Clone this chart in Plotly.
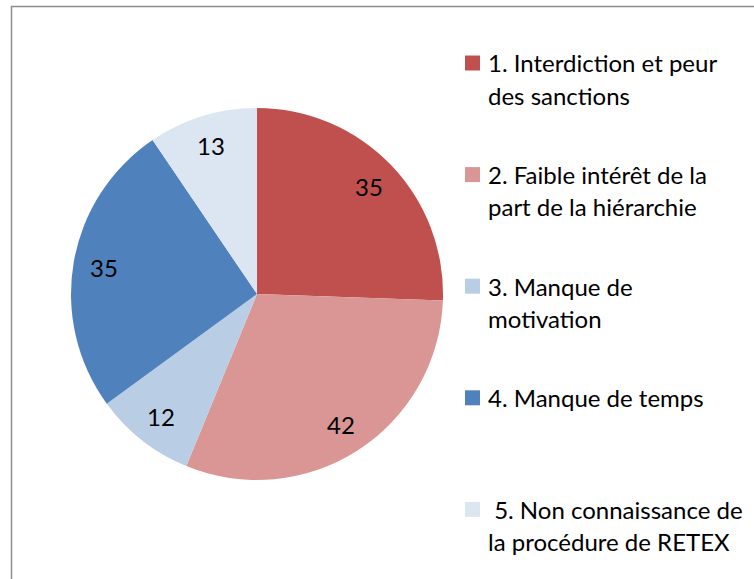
import math
import plotly.graph_objects as go

# Survey answers: obstacles to reporting (RETEX)
categories = [
    "1. Interdiction et peur\ndes sanctions",
    "2. Faible intérêt de la\npart de la hiérarchie",
    "3. Manque de\nmotivation",
    "4. Manque de temps",
    " 5. Non connaissance de\nla procédure de RETEX",
]
values = [35, 42, 12, 35, 13]
colors = ["#C0504D", "#D99694", "#B9CDE5", "#4F81BD", "#DCE6F2"]

W, H = 754, 579
FONT = "Lato"

# Pie geometry in pixels
cx, cy, R = 257, 294, 186
label_r = 0.835 * R


def px(x):
    return x / W


def py(y):
    return 1 - y / H


fig = go.Figure()
fig.add_trace(go.Pie(
    labels=[c.replace("\n", " ") for c in categories],
    values=values,
    marker=dict(colors=colors, line=dict(width=0)),
    sort=False,
    direction="clockwise",
    rotation=0,
    textinfo="none",
    hoverinfo="label+value",
    showlegend=False,
    domain=dict(x=[px(cx - R), px(cx + R)], y=[py(cy + R), py(cy - R)]),
))

annotations = []
shapes = []

# Value labels placed at the middle angle of each slice
total = sum(values)
acc = 0
for v in values:
    mid = (acc + v / 2) / total * 2 * math.pi
    acc += v
    lx = cx + label_r * math.sin(mid)
    ly = cy - label_r * math.cos(mid)
    annotations.append(dict(
        x=px(lx), y=py(ly), xref="paper", yref="paper",
        text=str(v), showarrow=False, xanchor="center", yanchor="middle",
        font=dict(family=FONT, size=24, color="#000000"),
    ))

# Legend drawn at the right
leg_x_marker = 465
leg_x_text = 486
leg_y0 = 63
leg_step = 111.6
line_gap = 32
sq = 15
for i, (cat, col) in enumerate(zip(categories, colors)):
    y1 = leg_y0 + i * leg_step
    shapes.append(dict(
        type="rect", xref="paper", yref="paper",
        x0=px(leg_x_marker), x1=px(leg_x_marker + sq),
        y0=py(y1 + sq / 2), y1=py(y1 - sq / 2),
        fillcolor=col, line=dict(width=0),
    ))
    for j, line in enumerate(cat.split("\n")):
        annotations.append(dict(
            x=px(leg_x_text), y=py(y1 + j * line_gap), xref="paper", yref="paper",
            text=line.replace(" ", "&nbsp;", 1) if line.startswith(" ") else line,
            showarrow=False, xanchor="left", yanchor="middle",
            font=dict(family=FONT, size=24, color="#000000"),
        ))

# Chart area frame
shapes.append(dict(
    type="rect", xref="paper", yref="paper",
    x0=px(11.5), x1=px(W + 10), y0=py(H + 10), y1=py(6.5),
    line=dict(color="#8C8C8C", width=1.5), fillcolor="rgba(0,0,0,0)",
))

fig.update_layout(
    width=W, height=H,
    margin=dict(l=0, r=0, t=0, b=0),
    paper_bgcolor="white", plot_bgcolor="white",
    annotations=annotations, shapes=shapes,
)

fig.write_html("out.html")
